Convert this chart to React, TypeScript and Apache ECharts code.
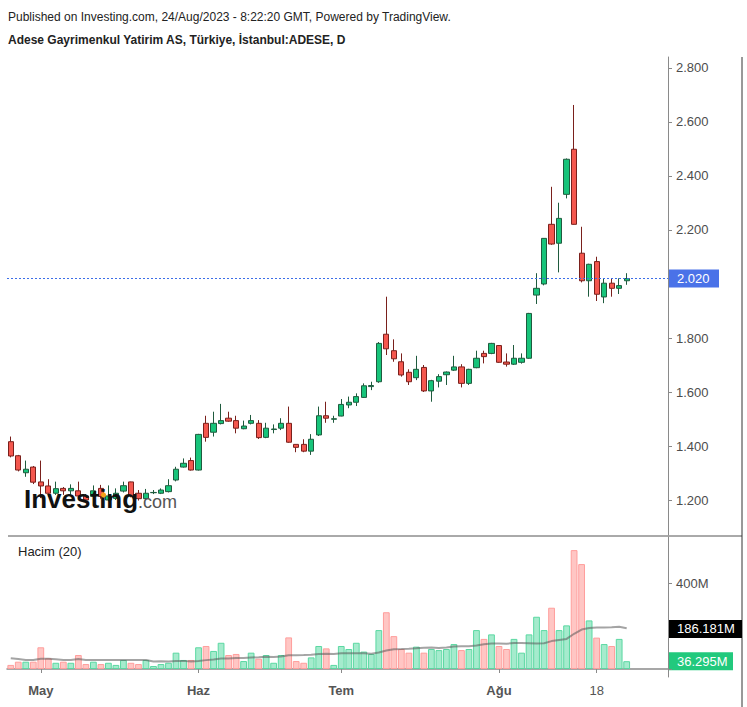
import React, { useEffect, useRef } from 'react';
import * as echarts from 'echarts';

const dates = [
  '2023-04-25','2023-04-26','2023-04-27','2023-04-28',
  '2023-05-02','2023-05-03','2023-05-04','2023-05-05','2023-05-08','2023-05-09','2023-05-10','2023-05-11','2023-05-12',
  '2023-05-15','2023-05-16','2023-05-17','2023-05-18','2023-05-22','2023-05-23','2023-05-24','2023-05-25','2023-05-26',
  '2023-05-29','2023-05-30','2023-05-31',
  '2023-06-01','2023-06-02','2023-06-05','2023-06-06','2023-06-07','2023-06-08','2023-06-09','2023-06-12','2023-06-13',
  '2023-06-14','2023-06-15','2023-06-16','2023-06-19','2023-06-20','2023-06-21','2023-06-22','2023-06-23','2023-06-26','2023-06-27',
  '2023-07-03','2023-07-04','2023-07-05','2023-07-06','2023-07-07','2023-07-10','2023-07-11','2023-07-12','2023-07-13','2023-07-14',
  '2023-07-17','2023-07-18','2023-07-19','2023-07-20','2023-07-21','2023-07-24','2023-07-25','2023-07-26','2023-07-27','2023-07-28',
  '2023-07-31',
  '2023-08-01','2023-08-02','2023-08-03','2023-08-04','2023-08-07','2023-08-08','2023-08-09','2023-08-10','2023-08-11',
  '2023-08-14','2023-08-15','2023-08-16','2023-08-17','2023-08-18','2023-08-21','2023-08-22','2023-08-23','2023-08-24'
];
const emptySlots = ['pad1', 'pad2', 'pad3', 'pad4', 'pad5'];

const opens = [
  1.416,1.364,1.301,1.322,1.267,1.252,1.225,1.243,1.234,1.234,1.215,1.214,1.243,1.200,1.206,1.233,1.267,1.225,1.205,1.227,
  1.225,1.231,1.274,1.322,1.346,1.311,1.484,1.451,1.483,1.503,1.494,1.464,1.484,1.484,1.432,1.461,1.466,1.484,1.406,1.406,
  1.381,1.441,1.512,1.499,1.511,1.552,1.562,1.580,1.620,1.638,1.814,1.753,1.712,1.673,1.653,1.691,1.604,1.640,1.664,1.681,
  1.693,1.632,1.690,1.743,1.743,1.772,1.711,1.703,1.710,1.725,1.959,2.000,2.221,2.151,2.332,2.499,2.114,2.012,2.083,1.952,
  2.003,1.984,2.012
];
const highs = [
  1.435,1.367,1.346,1.326,1.346,1.277,1.268,1.248,1.258,1.268,1.222,1.254,1.256,1.254,1.243,1.268,1.268,1.237,1.241,1.237,
  1.243,1.277,1.323,1.354,1.357,1.445,1.512,1.527,1.556,1.527,1.512,1.494,1.515,1.496,1.486,1.480,1.503,1.546,1.406,1.425,
  1.444,1.546,1.564,1.512,1.574,1.583,1.595,1.632,1.638,1.785,1.953,1.795,1.743,1.684,1.734,1.700,1.645,1.666,1.676,1.734,
  1.703,1.686,1.753,1.753,1.782,1.774,1.743,1.774,1.743,1.893,2.040,2.170,2.360,2.301,2.465,2.663,2.212,2.075,2.101,2.021,
  2.021,2.021,2.040
];
const lows = [
  1.358,1.306,1.286,1.259,1.207,1.212,1.219,1.219,1.219,1.210,1.192,1.205,1.205,1.195,1.200,1.228,1.210,1.198,1.200,1.222,
  1.222,1.228,1.269,1.320,1.309,1.309,1.416,1.435,1.480,1.490,1.447,1.462,1.480,1.426,1.429,1.447,1.459,1.412,1.377,1.377,
  1.367,1.437,1.486,1.486,1.510,1.540,1.548,1.578,1.607,1.634,1.737,1.712,1.657,1.626,1.644,1.600,1.564,1.617,1.626,1.678,
  1.617,1.626,1.688,1.706,1.740,1.708,1.694,1.700,1.705,1.723,1.926,1.995,2.145,2.043,2.317,2.220,2.006,1.953,1.937,1.929,
  1.953,1.963,1.997
];
const closes = [
  1.363,1.311,1.314,1.266,1.252,1.225,1.242,1.234,1.243,1.215,1.200,1.234,1.213,1.215,1.225,1.253,1.215,1.205,1.225,1.228,
  1.237,1.253,1.314,1.336,1.311,1.443,1.432,1.484,1.494,1.492,1.466,1.474,1.494,1.431,1.466,1.463,1.484,1.414,1.395,1.381,
  1.425,1.512,1.503,1.501,1.554,1.562,1.583,1.623,1.624,1.780,1.760,1.723,1.663,1.638,1.684,1.604,1.642,1.657,1.674,1.693,
  1.632,1.684,1.725,1.731,1.780,1.710,1.703,1.725,1.725,1.891,1.984,2.169,2.148,2.243,2.462,2.221,2.012,2.073,1.962,2.003,
  1.984,1.994,2.020
];
// volume in millions
const volumesM = [
  19,34,34,34,101,50,29,34,29,65,23,34,23,29,19,42,29,23,42,14,
  23,29,76,42,42,101,107,84,122,65,70,37,76,48,65,29,65,147,37,29,
  54,107,96,19,107,93,122,81,70,181,264,153,93,76,104,76,93,88,93,116,
  88,93,181,140,161,107,93,140,76,161,243,181,285,181,203,553,488,226,146,116,
  107,140,36.295
];
// 20-day volume average before a full window is available
const volumeMaHead = [50,46,42,42,48,48,45,42,42,46,42,42,42,42,42,42,42,42,42];
const maPeriod = 20;

const priceTicks = [1.2, 1.4, 1.6, 1.8, 2.0, 2.2, 2.4, 2.6, 2.8].filter((v) => v !== 2.0);
const volumeTicks = [0, 400];
const volumeLabelTicks = [400];
const monthTickDates = ['2023-05-02', '2023-06-01', '2023-07-03', '2023-08-01', '2023-08-18'];
const monthTickLabels = ['May', 'Haz', 'Tem', 'Ağu', '18'];
const monthTickBold = [true, true, true, true, false];

const lastPrice = 2.02;
const lastVolumeM = 36.295;
const volumeMaLastM = 186.181;

const titleLine1 = 'Published on Investing.com, 24/Aug/2023 - 8:22:20 GMT, Powered by TradingView.';
const titleLine2 = 'Adese Gayrimenkul Yatirim AS, Türkiye, İstanbul:ADESE, D';
const volumeTitle = 'Hacim (20)';

const FONT = "'Liberation Sans', Arial, Helvetica, sans-serif";

export default function App() {
  const ref = useRef<HTMLDivElement>(null);
  useEffect(() => {
    if (!ref.current) return;
    const chart = echarts.init(ref.current, null, { renderer: 'svg' });
    const cats = [...dates, ...emptySlots];
    const candleData = dates.map((_, i) => [opens[i], closes[i], lows[i], highs[i]]);
    const upColorFill = '#a5ebcd', upColorBorder = '#5bd8a2';
    const dnColorFill = '#ffc6c4', dnColorBorder = '#ff9e9c';
    const volData = volumesM.map((v, i) => {
      const up = closes[i] >= opens[i];
      return {
        value: v,
        itemStyle: { color: up ? upColorFill : dnColorFill, borderColor: up ? upColorBorder : dnColorBorder, borderWidth: 1 },
      };
    });
    const maData = volumesM.map((_, i) => {
      if (i < maPeriod - 1) return volumeMaHead[i];
      let s = 0;
      for (let k = i - maPeriod + 1; k <= i; k++) s += volumesM[k];
      return +(s / maPeriod).toFixed(3);
    });
    const isTick = (_: number, value: string) => monthTickDates.indexOf(value) >= 0;

    const option: any = {
      animation: false,
      backgroundColor: '#ffffff',
      textStyle: { fontFamily: FONT },
      grid: [
        { left: 7, top: 57, width: 661, height: 478 },
        { left: 7, top: 537, width: 661, height: 140 },
      ],
      xAxis: [
        {
          type: 'category', gridIndex: 0, data: cats, boundaryGap: true,
          axisLine: { show: false }, axisTick: { show: false }, axisLabel: { show: false }, splitLine: { show: false },
        },
        {
          type: 'category', gridIndex: 1, data: cats, boundaryGap: true,
          axisLine: { show: true, lineStyle: { color: '#8a8a8a', width: 1.5 } },
          axisTick: { show: true, interval: isTick, alignWithLabel: true, length: 4, lineStyle: { color: '#8a8a8a' } },
          axisLabel: {
            show: true, interval: isTick, margin: 7, color: '#555', fontSize: 13, fontFamily: FONT,
            formatter: (value: string) => {
              const k = monthTickDates.indexOf(value);
              if (k < 0) return '';
              return monthTickBold[k] ? '{b|' + monthTickLabels[k] + '}' : monthTickLabels[k];
            },
            rich: { b: { fontWeight: 'bold', fontSize: 13, color: '#555', fontFamily: FONT } },
          },
          splitLine: { show: false },
        },
      ],
      yAxis: [
        {
          type: 'value', gridIndex: 0, position: 'right', min: 1.0704, max: 2.8407, scale: true,
          axisLine: { show: true, lineStyle: { color: '#8a8a8a', width: 1 } },
          axisTick: { show: true, length: 4, customValues: priceTicks, lineStyle: { color: '#8a8a8a' } },
          axisLabel: {
            show: true, customValues: priceTicks, margin: 8, color: '#4d4d4d', fontSize: 13, fontFamily: FONT,
            formatter: (v: number) => v.toFixed(3),
          },
          splitLine: { show: false },
        },
        {
          type: 'value', gridIndex: 1, position: 'right', min: -37.2, max: 614,
          axisLine: { show: true, lineStyle: { color: '#8a8a8a', width: 1 } },
          axisTick: { show: true, length: 4, customValues: volumeTicks, lineStyle: { color: '#8a8a8a' } },
          axisLabel: {
            show: true, customValues: volumeLabelTicks, margin: 8, color: '#4d4d4d', fontSize: 13, fontFamily: FONT,
            formatter: (v: number) => v + 'M',
          },
          splitLine: { show: false },
        },
      ],
      series: [
        {
          type: 'candlestick', xAxisIndex: 0, yAxisIndex: 0, data: candleData, barWidth: '76%',
          itemStyle: { color: '#17c47a', color0: '#f4574e', borderColor: '#1f5b3e', borderColor0: '#7a201c', borderWidth: 1 },
          markLine: {
            silent: true, symbol: ['none', 'none'], label: { show: false },
            lineStyle: { color: '#3b6ee8', type: [2, 2], width: 1 },
            data: [{ yAxis: lastPrice }],
          },
        },
        {
          type: 'bar', xAxisIndex: 1, yAxisIndex: 1, data: volData, barCategoryGap: '10%',
        },
        {
          type: 'line', xAxisIndex: 1, yAxisIndex: 1, data: maData, showSymbol: false, symbol: 'none',
          lineStyle: { color: 'rgba(90,90,90,0.55)', width: 2 },
        },
      ],
    };
    chart.setOption(option);

    const yPrice = chart.convertToPixel({ yAxisIndex: 0 }, lastPrice) as number;
    const yMa = chart.convertToPixel({ yAxisIndex: 1 }, volumeMaLastM) as number;
    const yVol = chart.convertToPixel({ yAxisIndex: 1 }, lastVolumeM) as number;

    const boxLabel = (y: number, text: string, bg: string, w: number) => ({
      type: 'group', z: 100,
      children: [
        { type: 'rect', shape: { x: 669, y: y - 9, width: w, height: 18 }, style: { fill: bg } },
        { type: 'text', x: 677, y: y, style: { text, fill: '#ffffff', font: `13px ${FONT}`, textVerticalAlign: 'middle', textAlign: 'left' } },
      ],
    });

    chart.setOption({
      graphic: [
        { type: 'text', x: 8, y: 17, style: { text: titleLine1, fill: '#222', font: `12px ${FONT}`, textVerticalAlign: 'middle' } },
        { type: 'text', x: 8, y: 40, style: { text: titleLine2, fill: '#222', font: `bold 12px ${FONT}`, textVerticalAlign: 'middle' } },
        { type: 'text', x: 18, y: 551, style: { text: volumeTitle, fill: '#222', font: `13px ${FONT}`, textVerticalAlign: 'middle' } },
        { type: 'line', shape: { x1: 8, y1: 536, x2: 742, y2: 536 }, style: { stroke: '#555', lineWidth: 1 } },
        { type: 'line', shape: { x1: 742, y1: 57, x2: 742, y2: 707 }, style: { stroke: '#333', lineWidth: 1 } },
        { type: 'text', x: 24, y: 512, z: 50, style: { text: 'Investing', fill: '#111', font: `bold 26px ${FONT}`, textVerticalAlign: 'bottom' } },
        { type: 'circle', z: 51, shape: { cx: 103.5, cy: 495, r: 2.6 }, style: { fill: '#f5a01a' } },
        { type: 'text', x: 138, y: 511, z: 50, style: { text: '.com', fill: '#555', font: `18px ${FONT}`, textVerticalAlign: 'bottom' } },
        boxLabel(yPrice, lastPrice.toFixed(3), '#4a72e8', 50),
        boxLabel(yMa, volumeMaLastM.toFixed(3) + 'M', '#000000', 73),
        boxLabel(yVol, lastVolumeM.toFixed(3) + 'M', '#22c97d', 64),
      ],
    });

    return () => chart.dispose();
  }, []);
  return <div ref={ref} style={{ position: 'absolute', left: 0, top: 0, width: 747, height: 707, background: '#fff' }} />;
}
